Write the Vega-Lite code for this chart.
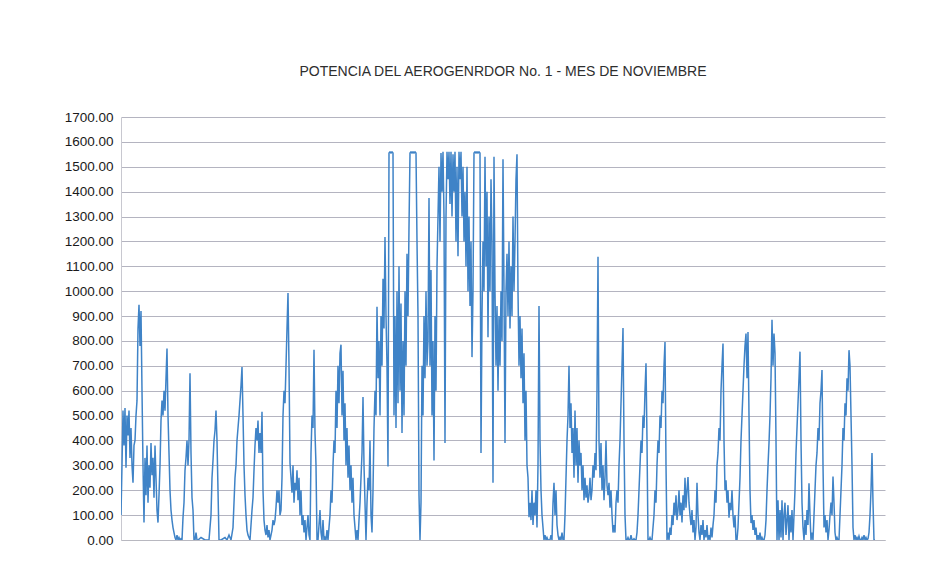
{
  "$schema": "https://vega.github.io/schema/vega-lite/v6.json",
  "autosize": {"type": "none"},
  "width": 764,
  "height": 423,
  "padding": {"left": 121, "top": 117, "right": 51, "bottom": 41},
  "background": "white",
  "title": {"text": "POTENCIA DEL AEROGENRDOR No. 1 - MES DE NOVIEMBRE", "fontSize": 14, "fontWeight": "normal", "font": "Liberation Sans", "color": "#2e2e2e", "offset": 31, "anchor": "middle"},
  "config": {"view": {"stroke": null}},
  "data": {"values": [
{"t":0,"v":100},{"t":1,"v":300},{"t":2,"v":520},{"t":3,"v":380},{"t":4,"v":530},{"t":5,"v":290},{"t":6,"v":500},{"t":7,"v":420},{"t":8,"v":520},{"t":9,"v":330},
{"t":10,"v":450},{"t":11,"v":300},{"t":12,"v":230},{"t":13,"v":380},{"t":14,"v":400},{"t":15,"v":500},{"t":16,"v":560},{"t":17,"v":850},{"t":18,"v":945},{"t":19,"v":780},
{"t":20,"v":920},{"t":21,"v":600},{"t":22,"v":300},{"t":23,"v":70},{"t":24,"v":330},{"t":25,"v":180},{"t":26,"v":380},{"t":27,"v":150},{"t":28,"v":300},{"t":29,"v":210},
{"t":30,"v":390},{"t":31,"v":260},{"t":32,"v":330},{"t":33,"v":170},{"t":34,"v":380},{"t":35,"v":250},{"t":36,"v":120},{"t":37,"v":70},{"t":38,"v":180},{"t":39,"v":300},
{"t":40,"v":480},{"t":41,"v":560},{"t":42,"v":500},{"t":43,"v":600},{"t":44,"v":520},{"t":45,"v":650},{"t":46,"v":770},{"t":47,"v":500},{"t":48,"v":350},{"t":49,"v":200},
{"t":50,"v":120},{"t":51,"v":80},{"t":52,"v":50},{"t":53,"v":30},{"t":54,"v":10},{"t":55,"v":0},{"t":56,"v":20},{"t":57,"v":0},{"t":58,"v":10},{"t":59,"v":0},
{"t":60,"v":5},{"t":61,"v":0},{"t":62,"v":90},{"t":63,"v":150},{"t":64,"v":280},{"t":65,"v":330},{"t":66,"v":400},{"t":67,"v":300},{"t":68,"v":400},{"t":69,"v":670},
{"t":70,"v":350},{"t":71,"v":170},{"t":72,"v":120},{"t":73,"v":0},{"t":74,"v":0},{"t":75,"v":30},{"t":76,"v":0},{"t":77,"v":0},{"t":80,"v":10},{"t":84,"v":0},
{"t":88,"v":0},{"t":90,"v":100},{"t":91,"v":250},{"t":92,"v":320},{"t":93,"v":400},{"t":94,"v":440},{"t":95,"v":520},{"t":96,"v":400},{"t":97,"v":200},{"t":98,"v":0},
{"t":100,"v":0},{"t":104,"v":10},{"t":106,"v":0},{"t":108,"v":20},{"t":110,"v":0},{"t":112,"v":50},{"t":113,"v":150},{"t":114,"v":250},{"t":115,"v":300},{"t":116,"v":400},
{"t":117,"v":450},{"t":118,"v":500},{"t":119,"v":560},{"t":120,"v":620},{"t":121,"v":695},{"t":122,"v":500},{"t":123,"v":300},{"t":124,"v":180},{"t":125,"v":100},{"t":126,"v":40},
{"t":127,"v":20},{"t":128,"v":10},{"t":129,"v":0},{"t":130,"v":60},{"t":131,"v":120},{"t":132,"v":170},{"t":133,"v":280},{"t":134,"v":380},{"t":135,"v":450},{"t":136,"v":400},
{"t":137,"v":480},{"t":138,"v":350},{"t":139,"v":430},{"t":140,"v":350},{"t":141,"v":515},{"t":142,"v":200},{"t":143,"v":80},{"t":144,"v":40},{"t":145,"v":20},{"t":146,"v":60},
{"t":147,"v":10},{"t":148,"v":40},{"t":149,"v":0},{"t":150,"v":20},{"t":151,"v":40},{"t":152,"v":80},{"t":153,"v":60},{"t":154,"v":80},{"t":155,"v":130},{"t":156,"v":200},
{"t":157,"v":150},{"t":158,"v":200},{"t":159,"v":100},{"t":160,"v":120},{"t":161,"v":250},{"t":162,"v":500},{"t":163,"v":600},{"t":164,"v":550},{"t":165,"v":700},{"t":166,"v":850},
{"t":167,"v":993},{"t":168,"v":700},{"t":169,"v":310},{"t":170,"v":250},{"t":171,"v":190},{"t":172,"v":300},{"t":173,"v":150},{"t":174,"v":230},{"t":175,"v":200},{"t":176,"v":280},
{"t":177,"v":160},{"t":178,"v":250},{"t":179,"v":100},{"t":180,"v":200},{"t":181,"v":60},{"t":182,"v":100},{"t":183,"v":30},{"t":184,"v":80},{"t":185,"v":0},{"t":186,"v":50},
{"t":187,"v":100},{"t":188,"v":20},{"t":189,"v":0},{"t":190,"v":350},{"t":191,"v":500},{"t":192,"v":450},{"t":193,"v":765},{"t":194,"v":430},{"t":195,"v":300},{"t":196,"v":0},
{"t":197,"v":0},{"t":198,"v":60},{"t":199,"v":120},{"t":200,"v":30},{"t":201,"v":0},{"t":202,"v":80},{"t":203,"v":0},{"t":204,"v":10},{"t":205,"v":0},{"t":206,"v":40},
{"t":207,"v":0},{"t":208,"v":50},{"t":209,"v":100},{"t":210,"v":200},{"t":211,"v":150},{"t":212,"v":300},{"t":213,"v":400},{"t":214,"v":350},{"t":215,"v":600},{"t":216,"v":450},
{"t":217,"v":700},{"t":218,"v":550},{"t":219,"v":750},{"t":220,"v":785},{"t":221,"v":500},{"t":222,"v":680},{"t":223,"v":400},{"t":224,"v":550},{"t":225,"v":300},{"t":226,"v":450},
{"t":227,"v":250},{"t":228,"v":380},{"t":229,"v":200},{"t":230,"v":300},{"t":231,"v":150},{"t":232,"v":250},{"t":233,"v":100},{"t":234,"v":50},{"t":235,"v":0},{"t":236,"v":40},
{"t":237,"v":0},{"t":238,"v":80},{"t":239,"v":150},{"t":240,"v":250},{"t":241,"v":350},{"t":242,"v":575},{"t":243,"v":300},{"t":244,"v":150},{"t":245,"v":0},{"t":246,"v":150},
{"t":247,"v":250},{"t":248,"v":200},{"t":249,"v":400},{"t":250,"v":100},{"t":251,"v":30},{"t":252,"v":200},{"t":253,"v":450},{"t":254,"v":600},{"t":255,"v":500},{"t":256,"v":937},
{"t":257,"v":650},{"t":258,"v":800},{"t":259,"v":500},{"t":260,"v":900},{"t":261,"v":700},{"t":262,"v":1050},{"t":263,"v":850},{"t":264,"v":1218},{"t":265,"v":900},{"t":266,"v":700},
{"t":267,"v":295},{"t":268,"v":1555},{"t":269,"v":1560},{"t":270,"v":1555},{"t":271,"v":1560},{"t":272,"v":1555},{"t":273,"v":500},{"t":274,"v":900},{"t":275,"v":450},{"t":276,"v":1000},
{"t":277,"v":550},{"t":278,"v":1100},{"t":279,"v":600},{"t":280,"v":950},{"t":281,"v":430},{"t":282,"v":800},{"t":283,"v":500},{"t":284,"v":1000},{"t":285,"v":700},{"t":286,"v":1150},
{"t":287,"v":900},{"t":288,"v":1258},{"t":289,"v":1555},{"t":290,"v":1560},{"t":291,"v":1555},{"t":292,"v":1560},{"t":293,"v":1555},{"t":294,"v":1560},{"t":295,"v":1555},{"t":296,"v":1200},
{"t":297,"v":900},{"t":298,"v":180},{"t":299,"v":0},{"t":300,"v":150},{"t":301,"v":700},{"t":302,"v":500},{"t":303,"v":900},{"t":304,"v":650},{"t":305,"v":1000},{"t":306,"v":700},
{"t":307,"v":800},{"t":308,"v":1374},{"t":309,"v":700},{"t":310,"v":1085},{"t":311,"v":500},{"t":312,"v":800},{"t":313,"v":320},{"t":314,"v":900},{"t":315,"v":600},{"t":316,"v":1100},
{"t":317,"v":1300},{"t":318,"v":1500},{"t":319,"v":1200},{"t":320,"v":1555},{"t":321,"v":1400},{"t":322,"v":1560},{"t":323,"v":1300},{"t":324,"v":390},{"t":325,"v":1300},{"t":326,"v":1560},
{"t":327,"v":1450},{"t":328,"v":1560},{"t":329,"v":1350},{"t":330,"v":1560},{"t":331,"v":1300},{"t":332,"v":1550},{"t":333,"v":1400},{"t":334,"v":1560},{"t":335,"v":1200},{"t":336,"v":1500},
{"t":337,"v":1140},{"t":338,"v":1560},{"t":339,"v":1450},{"t":340,"v":1560},{"t":341,"v":1300},{"t":342,"v":1500},{"t":343,"v":1200},{"t":344,"v":1400},{"t":345,"v":1100},{"t":346,"v":1500},
{"t":347,"v":1000},{"t":348,"v":1300},{"t":349,"v":940},{"t":350,"v":1200},{"t":351,"v":735},{"t":352,"v":1000},{"t":353,"v":1555},{"t":354,"v":1560},{"t":355,"v":1555},{"t":356,"v":1560},
{"t":357,"v":1555},{"t":358,"v":1560},{"t":359,"v":1555},{"t":360,"v":350},{"t":361,"v":900},{"t":362,"v":1200},{"t":363,"v":1000},{"t":364,"v":1540},{"t":365,"v":1100},{"t":366,"v":1400},
{"t":367,"v":815},{"t":368,"v":1300},{"t":369,"v":1000},{"t":370,"v":1450},{"t":371,"v":1200},{"t":372,"v":230},{"t":373,"v":1540},{"t":374,"v":1000},{"t":375,"v":700},{"t":376,"v":940},
{"t":377,"v":600},{"t":378,"v":900},{"t":379,"v":700},{"t":380,"v":1000},{"t":381,"v":800},{"t":382,"v":1530},{"t":383,"v":1000},{"t":384,"v":390},{"t":385,"v":1000},{"t":386,"v":1150},
{"t":387,"v":900},{"t":388,"v":1200},{"t":389,"v":850},{"t":390,"v":1100},{"t":391,"v":900},{"t":392,"v":1300},{"t":393,"v":1000},{"t":394,"v":1200},{"t":395,"v":1450},{"t":396,"v":1550},
{"t":397,"v":1000},{"t":398,"v":700},{"t":399,"v":900},{"t":400,"v":650},{"t":401,"v":850},{"t":402,"v":550},{"t":403,"v":750},{"t":404,"v":400},{"t":405,"v":600},{"t":406,"v":300},
{"t":407,"v":250},{"t":408,"v":92},{"t":409,"v":150},{"t":410,"v":80},{"t":411,"v":200},{"t":412,"v":60},{"t":413,"v":150},{"t":414,"v":100},{"t":415,"v":200},{"t":416,"v":50},
{"t":417,"v":300},{"t":418,"v":940},{"t":419,"v":400},{"t":420,"v":200},{"t":421,"v":100},{"t":422,"v":50},{"t":423,"v":0},{"t":424,"v":20},{"t":425,"v":0},{"t":426,"v":10},
{"t":427,"v":0},{"t":428,"v":0},{"t":429,"v":0},{"t":430,"v":20},{"t":431,"v":0},{"t":432,"v":150},{"t":433,"v":230},{"t":434,"v":100},{"t":435,"v":200},{"t":436,"v":60},
{"t":437,"v":20},{"t":438,"v":0},{"t":439,"v":10},{"t":440,"v":0},{"t":441,"v":30},{"t":442,"v":0},{"t":443,"v":0},{"t":444,"v":100},{"t":445,"v":250},{"t":446,"v":400},
{"t":447,"v":500},{"t":448,"v":700},{"t":449,"v":450},{"t":450,"v":550},{"t":451,"v":350},{"t":452,"v":450},{"t":453,"v":250},{"t":454,"v":520},{"t":455,"v":300},{"t":456,"v":450},
{"t":457,"v":230},{"t":458,"v":400},{"t":459,"v":300},{"t":460,"v":350},{"t":461,"v":200},{"t":462,"v":300},{"t":463,"v":160},{"t":464,"v":250},{"t":465,"v":170},{"t":466,"v":220},
{"t":467,"v":150},{"t":468,"v":180},{"t":469,"v":250},{"t":470,"v":160},{"t":471,"v":200},{"t":472,"v":300},{"t":473,"v":250},{"t":474,"v":350},{"t":475,"v":280},{"t":476,"v":600},
{"t":477,"v":1138},{"t":478,"v":400},{"t":479,"v":250},{"t":480,"v":390},{"t":481,"v":200},{"t":482,"v":300},{"t":483,"v":160},{"t":484,"v":250},{"t":485,"v":400},{"t":486,"v":220},
{"t":487,"v":180},{"t":488,"v":230},{"t":489,"v":130},{"t":490,"v":200},{"t":491,"v":100},{"t":492,"v":30},{"t":493,"v":60},{"t":494,"v":30},{"t":495,"v":150},{"t":496,"v":200},
{"t":497,"v":150},{"t":498,"v":300},{"t":499,"v":400},{"t":500,"v":550},{"t":501,"v":700},{"t":502,"v":852},{"t":503,"v":400},{"t":504,"v":100},{"t":505,"v":0},{"t":506,"v":0},
{"t":507,"v":10},{"t":508,"v":0},{"t":509,"v":0},{"t":510,"v":20},{"t":511,"v":0},{"t":512,"v":0},{"t":513,"v":5},{"t":514,"v":0},{"t":515,"v":0},{"t":516,"v":30},
{"t":517,"v":100},{"t":518,"v":200},{"t":519,"v":300},{"t":520,"v":400},{"t":521,"v":350},{"t":522,"v":500},{"t":523,"v":450},{"t":524,"v":600},{"t":525,"v":710},{"t":526,"v":400},
{"t":527,"v":0},{"t":528,"v":0},{"t":529,"v":10},{"t":530,"v":0},{"t":531,"v":0},{"t":532,"v":50},{"t":533,"v":100},{"t":534,"v":200},{"t":535,"v":150},{"t":536,"v":300},
{"t":537,"v":400},{"t":538,"v":350},{"t":539,"v":500},{"t":540,"v":450},{"t":541,"v":600},{"t":542,"v":550},{"t":543,"v":700},{"t":544,"v":796},{"t":545,"v":300},{"t":546,"v":0},
{"t":547,"v":30},{"t":548,"v":0},{"t":549,"v":50},{"t":550,"v":20},{"t":551,"v":100},{"t":552,"v":60},{"t":553,"v":150},{"t":554,"v":100},{"t":555,"v":180},{"t":556,"v":80},
{"t":557,"v":120},{"t":558,"v":200},{"t":559,"v":100},{"t":560,"v":150},{"t":561,"v":70},{"t":562,"v":180},{"t":563,"v":120},{"t":564,"v":250},{"t":565,"v":130},{"t":566,"v":200},
{"t":567,"v":253},{"t":568,"v":150},{"t":569,"v":100},{"t":570,"v":60},{"t":571,"v":120},{"t":572,"v":30},{"t":573,"v":80},{"t":574,"v":0},{"t":575,"v":50},{"t":576,"v":230},
{"t":577,"v":100},{"t":578,"v":30},{"t":579,"v":0},{"t":580,"v":60},{"t":581,"v":20},{"t":582,"v":80},{"t":583,"v":0},{"t":584,"v":40},{"t":585,"v":10},{"t":586,"v":60},
{"t":587,"v":0},{"t":588,"v":20},{"t":589,"v":0},{"t":590,"v":50},{"t":591,"v":10},{"t":592,"v":60},{"t":593,"v":100},{"t":594,"v":200},{"t":595,"v":150},{"t":596,"v":300},
{"t":597,"v":350},{"t":598,"v":450},{"t":599,"v":400},{"t":600,"v":600},{"t":601,"v":700},{"t":602,"v":790},{"t":603,"v":400},{"t":604,"v":200},{"t":605,"v":240},{"t":606,"v":150},
{"t":607,"v":200},{"t":608,"v":90},{"t":609,"v":150},{"t":610,"v":120},{"t":611,"v":200},{"t":612,"v":100},{"t":613,"v":50},{"t":614,"v":100},{"t":615,"v":0},{"t":616,"v":0},
{"t":617,"v":50},{"t":618,"v":150},{"t":619,"v":250},{"t":620,"v":400},{"t":621,"v":500},{"t":622,"v":600},{"t":623,"v":700},{"t":624,"v":780},{"t":625,"v":830},{"t":626,"v":650},
{"t":627,"v":836},{"t":628,"v":500},{"t":629,"v":200},{"t":630,"v":68},{"t":631,"v":100},{"t":632,"v":40},{"t":633,"v":80},{"t":634,"v":20},{"t":635,"v":50},{"t":636,"v":0},
{"t":637,"v":20},{"t":638,"v":0},{"t":639,"v":30},{"t":640,"v":0},{"t":641,"v":10},{"t":642,"v":0},{"t":643,"v":0},{"t":644,"v":20},{"t":645,"v":80},{"t":646,"v":200},
{"t":647,"v":300},{"t":648,"v":390},{"t":649,"v":500},{"t":650,"v":650},{"t":651,"v":885},{"t":652,"v":700},{"t":653,"v":830},{"t":654,"v":750},{"t":655,"v":400},{"t":656,"v":0},
{"t":657,"v":160},{"t":658,"v":0},{"t":659,"v":120},{"t":660,"v":10},{"t":661,"v":160},{"t":662,"v":0},{"t":663,"v":100},{"t":664,"v":150},{"t":665,"v":20},{"t":666,"v":80},
{"t":667,"v":140},{"t":668,"v":0},{"t":669,"v":100},{"t":670,"v":30},{"t":671,"v":120},{"t":672,"v":0},{"t":673,"v":100},{"t":674,"v":200},{"t":675,"v":350},{"t":676,"v":450},
{"t":677,"v":550},{"t":678,"v":650},{"t":679,"v":757},{"t":680,"v":400},{"t":681,"v":150},{"t":682,"v":50},{"t":683,"v":0},{"t":684,"v":80},{"t":685,"v":20},{"t":686,"v":120},
{"t":687,"v":60},{"t":688,"v":228},{"t":689,"v":100},{"t":690,"v":0},{"t":691,"v":30},{"t":692,"v":0},{"t":693,"v":100},{"t":694,"v":200},{"t":695,"v":300},{"t":696,"v":350},
{"t":697,"v":450},{"t":698,"v":400},{"t":699,"v":550},{"t":700,"v":600},{"t":701,"v":683},{"t":702,"v":300},{"t":703,"v":50},{"t":704,"v":100},{"t":705,"v":30},{"t":706,"v":80},
{"t":707,"v":0},{"t":708,"v":40},{"t":709,"v":100},{"t":710,"v":150},{"t":711,"v":100},{"t":712,"v":255},{"t":713,"v":150},{"t":714,"v":30},{"t":715,"v":0},{"t":716,"v":10},
{"t":717,"v":0},{"t":718,"v":0},{"t":719,"v":100},{"t":720,"v":200},{"t":721,"v":300},{"t":722,"v":450},{"t":723,"v":400},{"t":724,"v":550},{"t":725,"v":500},{"t":726,"v":650},
{"t":727,"v":600},{"t":728,"v":763},{"t":729,"v":700},{"t":730,"v":500},{"t":731,"v":300},{"t":732,"v":50},{"t":733,"v":0},{"t":734,"v":20},{"t":735,"v":0},{"t":736,"v":10},
{"t":737,"v":0},{"t":738,"v":15},{"t":739,"v":0},{"t":740,"v":0},{"t":741,"v":10},{"t":742,"v":0},{"t":743,"v":20},{"t":744,"v":0},{"t":745,"v":10},{"t":746,"v":0},
{"t":747,"v":5},{"t":748,"v":30},{"t":749,"v":100},{"t":750,"v":200},{"t":751,"v":350},{"t":752,"v":150},{"t":753,"v":0},{"t":754,"v":0}
  ]},
  "mark": {"type": "line", "color": "#3f83c7", "strokeWidth": 1.5, "clip": true},
  "encoding": {
    "x": {"field": "t", "type": "quantitative", "scale": {"domain": [0, 764], "nice": false, "zero": false},
      "axis": {"title": null, "labels": false, "ticks": false, "grid": false, "domainColor": "#b8b8c0", "domainWidth": 1}},
    "y": {"field": "v", "type": "quantitative", "scale": {"domain": [0, 1700], "nice": false},
      "axis": {"title": null, "values": [0,100,200,300,400,500,600,700,800,900,1000,1100,1200,1300,1400,1500,1600,1700], "format": ".2f", "labelFont": "Liberation Sans", "labelFontSize": 13.5, "labelColor": "#1a1a1a", "labelPadding": 8, "ticks": false, "gridColor": "#b4b4c0", "gridWidth": 1, "domainColor": "#c8c8d0"}}
  }
}
